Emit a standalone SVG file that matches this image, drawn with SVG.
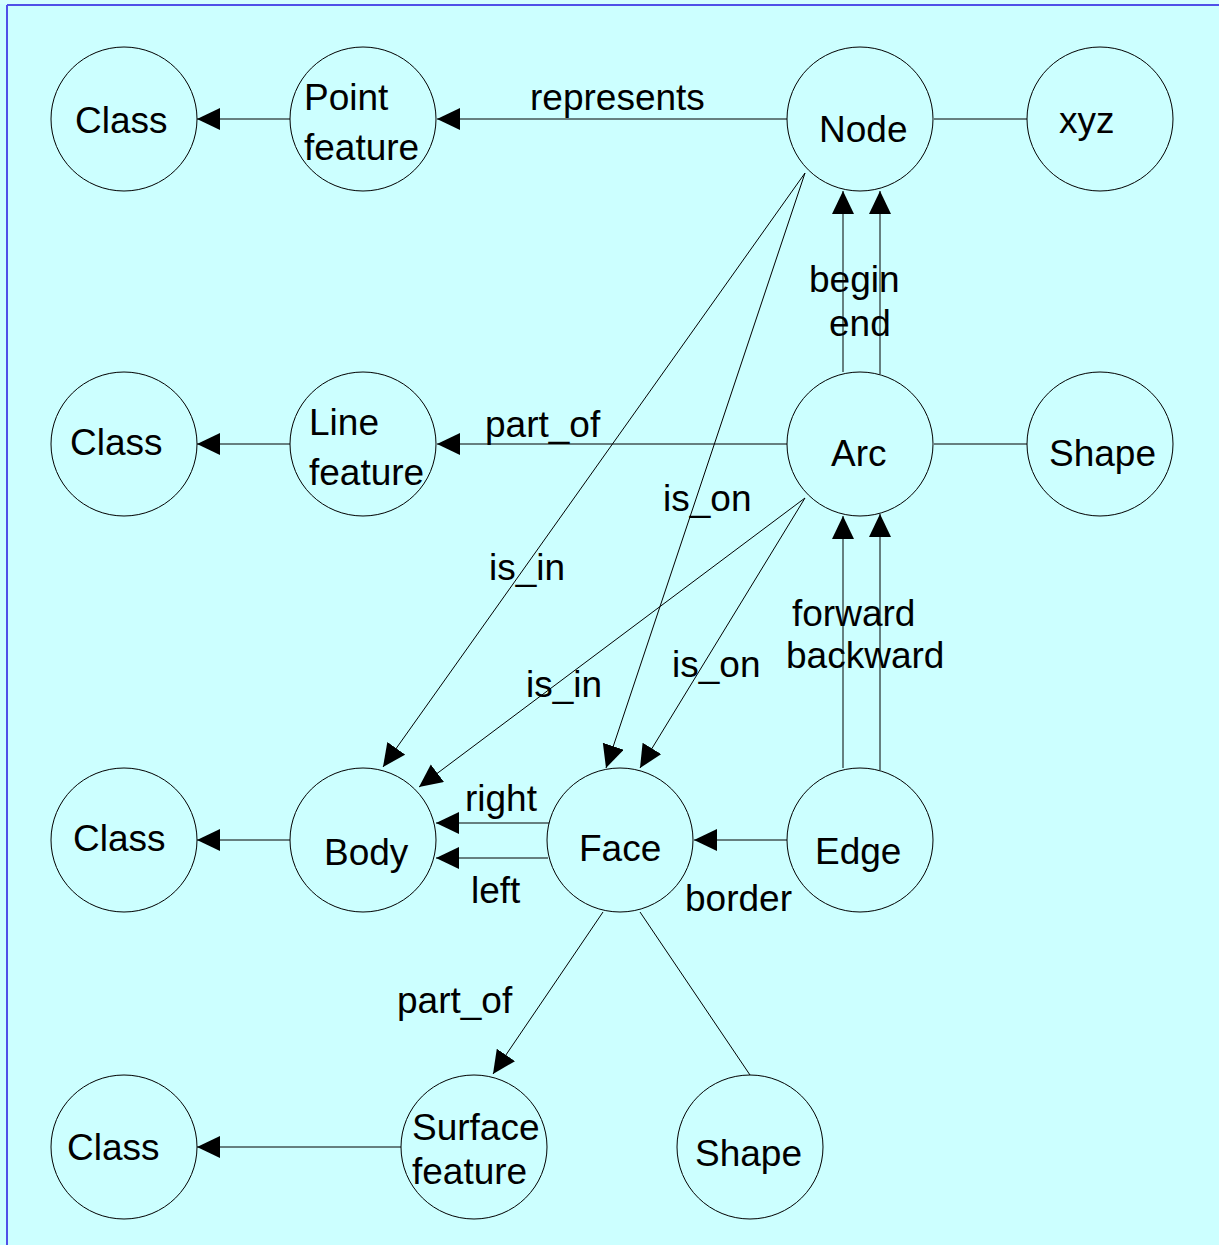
<svg xmlns="http://www.w3.org/2000/svg" width="1219" height="1245" viewBox="0 0 1219 1245">
  <defs>
    <marker id="arrow" markerUnits="userSpaceOnUse" markerWidth="24" markerHeight="24" refX="23" refY="11" orient="auto">
      <path d="M0,0 L23,11 L0,22 Z" fill="#000"/>
    </marker>
    <style>
      .node ellipse { fill: #ccffff; stroke: #000; stroke-width: 1; }
      text { font-family: "Liberation Sans", Arial, sans-serif; font-size: 37px; fill: #000; }
      .edges line { stroke: #000; stroke-width: 1; fill: none; }
      .edges line.arr { marker-end: url(#arrow); }
    </style>
  </defs>

  <!-- page background and frame -->
  <rect x="0" y="0" width="1219" height="1245" fill="#ccffff"/>
  <rect x="0" y="0" width="1219" height="4" fill="#d4ffff"/>
  <line x1="7" y1="5" x2="1219" y2="5" stroke="#5050e8" stroke-width="2"/>
  <line x1="7" y1="5" x2="7" y2="1245" stroke="#5050e8" stroke-width="2"/>

  <!-- connectors -->
  <g class="edges">
    <line class="arr" x1="290" y1="119" x2="197" y2="119"/>
    <line class="arr" x1="787" y1="119" x2="437" y2="119"/>
    <line x1="934" y1="119" x2="1027" y2="119"/>

    <line class="arr" x1="843" y1="372" x2="843" y2="191"/>
    <line class="arr" x1="880" y1="374" x2="880" y2="191"/>

    <line class="arr" x1="290" y1="444" x2="197" y2="444"/>
    <line class="arr" x1="787" y1="444" x2="437" y2="444"/>
    <line x1="934" y1="444" x2="1027" y2="444"/>

    <line class="arr" x1="805" y1="173" x2="383" y2="767"/>
    <line class="arr" x1="805" y1="173" x2="606" y2="768"/>
    <line class="arr" x1="805" y1="498" x2="419" y2="787"/>
    <line class="arr" x1="805" y1="498" x2="640" y2="768"/>

    <line class="arr" x1="843" y1="768" x2="843" y2="516"/>
    <line class="arr" x1="880" y1="770" x2="880" y2="514"/>

    <line class="arr" x1="290" y1="840" x2="197" y2="840"/>
    <line class="arr" x1="549" y1="823" x2="436" y2="823"/>
    <line class="arr" x1="548" y1="858" x2="436" y2="858"/>
    <line class="arr" x1="787" y1="840" x2="694" y2="840"/>

    <line class="arr" x1="603" y1="912" x2="493" y2="1074"/>
    <line x1="640" y1="912" x2="750" y2="1075"/>

    <line class="arr" x1="401" y1="1147" x2="197" y2="1147"/>

    <text x="530" y="110">represents</text>
    <text x="809" y="292">begin</text>
    <text x="829" y="336">end</text>
    <text x="485" y="437">part_of</text>
    <text x="663" y="511">is_on</text>
    <text x="489" y="580">is_in</text>
    <text x="792" y="626">forward</text>
    <text x="786" y="668">backward</text>
    <text x="672" y="677">is_on</text>
    <text x="526" y="697">is_in</text>
    <text x="465" y="811">right</text>
    <text x="471" y="903">left</text>
    <text x="685" y="911">border</text>
    <text x="397" y="1013">part_of</text>
  </g>

  <!-- row 1 -->
  <g id="class1" class="node">
    <ellipse cx="124" cy="119" rx="73" ry="72"/>
    <text x="75" y="133">Class</text>
  </g>
  <g id="point-feature" class="node">
    <ellipse cx="363" cy="119" rx="73" ry="72"/>
    <text x="304" y="110">Point</text>
    <text x="304" y="160">feature</text>
  </g>
  <g id="node" class="node">
    <ellipse cx="860" cy="119" rx="73" ry="72"/>
    <text x="819" y="142">Node</text>
  </g>
  <g id="xyz" class="node">
    <ellipse cx="1100" cy="119" rx="73" ry="72"/>
    <text x="1059" y="133">xyz</text>
  </g>

  <!-- row 2 -->
  <g id="class2" class="node">
    <ellipse cx="124" cy="444" rx="73" ry="72"/>
    <text x="70" y="455">Class</text>
  </g>
  <g id="line-feature" class="node">
    <ellipse cx="363" cy="444" rx="73" ry="72"/>
    <text x="309" y="435">Line</text>
    <text x="309" y="485">feature</text>
  </g>
  <g id="arc" class="node">
    <ellipse cx="860" cy="444" rx="73" ry="72"/>
    <text x="831" y="466">Arc</text>
  </g>
  <g id="shape1" class="node">
    <ellipse cx="1100" cy="444" rx="73" ry="72"/>
    <text x="1049" y="466">Shape</text>
  </g>

  <!-- row 3 -->
  <g id="class3" class="node">
    <ellipse cx="124" cy="840" rx="73" ry="72"/>
    <text x="73" y="851">Class</text>
  </g>
  <g id="body" class="node">
    <ellipse cx="363" cy="840" rx="73" ry="72"/>
    <text x="324" y="865">Body</text>
  </g>
  <g id="face" class="node">
    <ellipse cx="620" cy="840" rx="73" ry="72"/>
    <text x="579" y="861">Face</text>
  </g>
  <g id="edge" class="node">
    <ellipse cx="860" cy="840" rx="73" ry="72"/>
    <text x="815" y="864">Edge</text>
  </g>

  <!-- row 4 -->
  <g id="class4" class="node">
    <ellipse cx="124" cy="1147" rx="73" ry="72"/>
    <text x="67" y="1160">Class</text>
  </g>
  <g id="surface-feature" class="node">
    <ellipse cx="474" cy="1147" rx="73" ry="72"/>
    <text x="412" y="1140">Surface</text>
    <text x="412" y="1184">feature</text>
  </g>
  <g id="shape2" class="node">
    <ellipse cx="750" cy="1147" rx="73" ry="72"/>
    <text x="695" y="1166">Shape</text>
  </g>
</svg>
